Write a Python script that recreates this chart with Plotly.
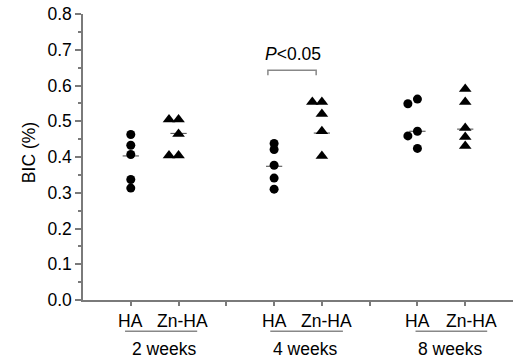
import plotly.graph_objects as go

# ---- data ----
groups = ["HA", "Zn-HA", "HA", "Zn-HA", "HA", "Zn-HA"]
weeks = ["2 weeks", "4 weeks", "8 weeks"]
group_x = [1, 2, 4, 5, 7, 8]

ha_2w = [0.463, 0.433, 0.407, 0.337, 0.313]
znha_2w = [0.505, 0.505, 0.464, 0.404, 0.404]
ha_4w = [0.438, 0.421, 0.377, 0.341, 0.310]
znha_4w = [0.554, 0.554, 0.520, 0.472, 0.403]
ha_8w = [0.549, 0.562, 0.459, 0.472, 0.424]
znha_8w = [0.590, 0.554, 0.481, 0.456, 0.431]

# central lines as drawn in the picture (one per group)
center_lines = [0.403, 0.466, 0.374, 0.467, 0.472, 0.478]

# side-by-side offsets for tied points (dot plot)
off_ha_2w = [0, 0, 0, 0, 0]
off_znha_2w = [-0.2, 0, 0, -0.2, 0]
off_ha_4w = [0, 0, 0, 0, 0]
off_znha_4w = [-0.2, 0, 0, 0, 0]
off_ha_8w = [-0.2, 0, -0.2, 0, 0]
off_znha_8w = [0, 0, 0, 0, 0]

series = [ha_2w, znha_2w, ha_4w, znha_4w, ha_8w, znha_8w]
offsets = [off_ha_2w, off_znha_2w, off_ha_4w, off_znha_4w, off_ha_8w, off_znha_8w]

FONT = "Arial, Liberation Sans, sans-serif"
AX = "#7a7a7a"
FS = 17.5

fig = go.Figure()
for i, (vals, offs) in enumerate(zip(series, offsets)):
    sym = "circle" if groups[i] == "HA" else "triangle-up"
    fig.add_trace(go.Scatter(
        x=[group_x[i] + o for o in offs], y=vals, mode="markers",
        marker=dict(symbol=sym, color="black", size=9 if sym == "circle" else 11,
                    line=dict(width=0)),
        showlegend=False, hoverinfo="skip"))

shapes = []
for i, m in enumerate(center_lines):
    shapes.append(dict(type="line", xref="x", yref="y", x0=group_x[i] - 0.17,
                       x1=group_x[i] + 0.17, y0=m, y1=m,
                       line=dict(color="#555555", width=1.1), layer="below"))

# significance bracket for 4 weeks
shapes.append(dict(type="path", xref="x", yref="y",
                   path="M 3.87 0.629 L 3.87 0.643 L 4.88 0.643 L 4.88 0.629",
                   line=dict(color="#888888", width=1.5)))

annotations = []
annotations.append(dict(x=4.4, y=0.688, xref="x", yref="y", showarrow=False,
                        text="<i>P</i><0.05", font=dict(size=FS, family=FONT, color="black")))

# y-axis title
annotations.append(dict(x=-0.1256, y=0.517, xref="paper", yref="paper", showarrow=False,
                        text="BIC (%)", textangle=-90, xanchor="center", yanchor="middle",
                        font=dict(size=FS, family=FONT, color="black")))

# group labels under axis
label_dx = [0, 0.08, 0, 0.1, 0, 0.13]
for i, g in enumerate(groups):
    annotations.append(dict(x=group_x[i] + label_dx[i], y=-0.072, xref="x", yref="paper",
                            showarrow=False, text=g, yanchor="middle",
                            font=dict(size=FS, family=FONT, color="black")))
week_x = [1.70, 4.65, 7.69]
line_span = [(0.88, 2.39), (3.92, 5.44), (6.96, 8.46)]
for wx, w, (a, b) in zip(week_x, weeks, line_span):
    annotations.append(dict(x=wx, y=-0.17, xref="x", yref="paper", showarrow=False,
                            text=w, yanchor="middle",
                            font=dict(size=FS, family=FONT, color="black")))
    shapes.append(dict(type="line", xref="x", yref="paper", x0=a, x1=b,
                       y0=-0.109, y1=-0.109, line=dict(color="#888888", width=1.5)))

fig.update_layout(
    width=513, height=358,
    margin=dict(l=83, r=0, t=14, b=58),
    plot_bgcolor="white", paper_bgcolor="white",
    font=dict(family=FONT, size=FS, color="black"),
    shapes=shapes, annotations=annotations,
    xaxis=dict(range=[0, 9], tickvals=[1, 2, 3, 4, 5, 6, 7, 8], ticktext=[""] * 8,
               ticks="outside", ticklen=4, tickcolor=AX, tickwidth=1.5,
               showline=True, linecolor=AX, linewidth=1.5, showgrid=False,
               zeroline=False),
    yaxis=dict(range=[0, 0.8], tickvals=[0, 0.1, 0.2, 0.3, 0.4, 0.5, 0.6, 0.7, 0.8],
               tickformat=".1f", ticks="outside", ticklen=6, tickcolor=AX, tickwidth=1.5,
               minor=dict(dtick=0.05, ticks="outside", ticklen=3, tickcolor=AX, tickwidth=1.5),
               showline=True, linecolor=AX, linewidth=1.5, showgrid=False, zeroline=False,
               automargin=False,
               tickfont=dict(size=FS, family=FONT)),
)

fig.write_html("out.html", config={"displayModeBar": False},
               post_script="document.body.style.margin='0';document.body.style.overflow='hidden';")
